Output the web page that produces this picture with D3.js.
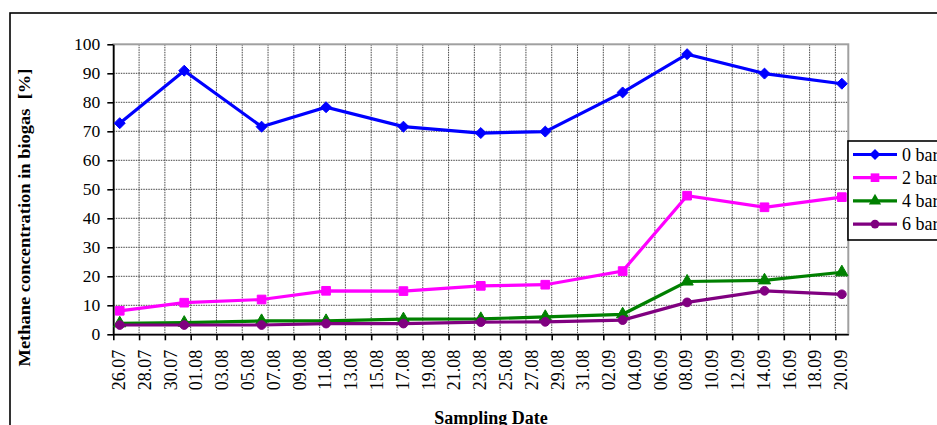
<!DOCTYPE html>
<html>
<head>
<meta charset="utf-8">
<script src="https://cdn.jsdelivr.net/npm/d3@7"></script>
<style>
	body { margin: 0; background: #fff; }
	svg { display: block; font-family: "Liberation Serif", "Times New Roman", serif; }
</style>
</head>
<body>
<div id="chart"></div>
<script>
// sampling dates (day.month, 2008 season)
const sampleDates = ['26.07', '31.07', '06.08', '11.08', '17.08', '23.08', '28.08', '03.09', '08.09', '14.09', '20.09']

const series = ['0 bar', '2 bar', '4 bar', '6 bar']
const bar0 = [72.8, 90.9, 71.6, 78.3, 71.6, 69.4, 69.9, 83.4, 96.6, 89.9, 86.4]
const bar2 = [8.1, 10.9, 12.0, 15.0, 14.9, 16.7, 17.1, 21.8, 47.8, 43.8, 47.3]
const bar4 = [3.8, 4.0, 4.6, 4.6, 5.2, 5.3, 6.0, 6.9, 18.2, 18.6, 21.4]
const bar6 = [3.2, 3.2, 3.2, 3.7, 3.7, 4.2, 4.3, 4.9, 11.0, 15.0, 13.8]

const axisStart = '26.07'
const axisEnd = '21.09'
const yTicks = [0, 10, 20, 30, 40, 50, 60, 70, 80, 90, 100]

// square diamond like the excel marker
const symbolWideDiamond = {
	draw(context, size) {
		const r = Math.sqrt(size / 2)
		context.moveTo(0, -r)
		context.lineTo(r, 0)
		context.lineTo(0, r)
		context.lineTo(-r, 0)
		context.closePath()
	}
}

const colors = ['#0000ff', '#ff00ff', '#008000', '#800080']
const symbols = [symbolWideDiamond, d3.symbolSquare, d3.symbolTriangle, d3.symbolCircle]
const symbolSizes = [60, 75, 65, 60]

const parseDate = d3.timeParse('%d.%m.%Y')
const toDate = s => parseDate(s + '.2008')

const width = 937
const height = 425
const plot = { left: 113.3, top: 44.3, right: 848.3, bottom: 334.3 }

const svg = d3.select('#chart').append('svg')
	.attr('width', width)
	.attr('height', height)

// outer chart frame (runs off the right and bottom)
svg.append('rect')
	.attr('x', 10)
	.attr('y', 13)
	.attr('width', 1000)
	.attr('height', 500)
	.attr('fill', 'none')
	.attr('stroke', '#000')
	.attr('stroke-width', 1.6)

const x = d3.scaleTime()
	.domain([toDate(axisStart), toDate(axisEnd)])
	.range([plot.left, plot.right])

const y = d3.scaleLinear()
	.domain([0, 100])
	.range([plot.bottom, plot.top])

const tickDates = d3.timeDay.range(toDate(axisStart), toDate(axisEnd), 2)

// grid
const grid = svg.append('g')
grid.selectAll('line.h')
	.data(yTicks.slice(1, -1))
	.enter()
	.append('line')
	.attr('x1', plot.left)
	.attr('x2', plot.right)
	.attr('y1', d => y(d))
	.attr('y2', d => y(d))
	.attr('stroke', '#444')
	.attr('stroke-dasharray', '1.5,1')
grid.selectAll('line.v')
	.data(tickDates.slice(1))
	.enter()
	.append('line')
	.attr('x1', d => x(d))
	.attr('x2', d => x(d))
	.attr('y1', plot.top)
	.attr('y2', plot.bottom)
	.attr('stroke', '#444')
	.attr('stroke-dasharray', '1.5,1')

svg.append('rect')
	.attr('x', plot.left)
	.attr('y', plot.top)
	.attr('width', plot.right - plot.left)
	.attr('height', plot.bottom - plot.top)
	.attr('fill', 'none')
	.attr('stroke', '#a0a0a0')
	.attr('stroke-width', 2)

// axes
const yAxis = svg.append('g')
	.attr('transform', `translate(${plot.left},0)`)
	.call(d3.axisLeft(y).tickValues(yTicks).tickSize(6).tickSizeOuter(0).tickPadding(7))
yAxis.selectAll('text')
	.attr('font-size', 17.5)
	.attr('font-family', '"Liberation Serif", serif')
	.attr('fill', '#000')

const xAxis = svg.append('g')
	.attr('transform', `translate(0,${plot.bottom})`)
	.call(d3.axisBottom(x).tickValues(tickDates).tickSize(6).tickSizeOuter(0).tickFormat(d3.timeFormat('%d.%m')))
xAxis.selectAll('text')
	.attr('transform', 'rotate(-90)')
	.attr('text-anchor', 'end')
	.attr('x', -15.5)
	.attr('y', 5)
	.attr('dy', '0.35em')
	.attr('font-size', 18)
	.attr('font-family', '"Liberation Serif", serif')
	.attr('fill', '#000')

svg.selectAll('.domain, .tick line')
	.attr('stroke', '#000')
	.attr('stroke-width', 1.6)

// series
const allValues = [bar0, bar2, bar4, bar6]
const pointX = s => x(d3.timeHour.offset(toDate(s), 12))

const line = d3.line()
	.x((d, i) => pointX(sampleDates[i]))
	.y(d => y(d))

allValues.forEach((values, k) => {
	svg.append('path')
		.datum(values)
		.attr('d', line)
		.attr('fill', 'none')
		.attr('stroke', colors[k])
		.attr('stroke-width', 3.2)

	svg.append('g').selectAll('path')
		.data(values)
		.enter()
		.append('path')
		.attr('transform', (d, i) => `translate(${pointX(sampleDates[i])},${y(d)})`)
		.attr('d', d3.symbol().type(symbols[k]).size(symbolSizes[k]))
		.attr('fill', colors[k])
		.attr('stroke', colors[k])
		.attr('stroke-width', 1)
})

// axis titles
svg.append('text')
	.attr('transform', 'translate(30,217.5) rotate(-90)')
	.attr('text-anchor', 'middle')
	.attr('font-weight', 'bold')
	.attr('font-size', 17.5)
	.attr('textLength', 298)
	.attr('lengthAdjust', 'spacingAndGlyphs')
	.attr('xml:space', 'preserve')
	.text('Methane concentration in biogas  [%]')

svg.append('text')
	.attr('x', 491)
	.attr('y', 423.5)
	.attr('text-anchor', 'middle')
	.attr('font-weight', 'bold')
	.attr('font-size', 18)
	.text('Sampling Date')

// legend
const legend = svg.append('g')
legend.append('rect')
	.attr('x', 848)
	.attr('y', 141)
	.attr('width', 200)
	.attr('height', 99)
	.attr('fill', '#fff')
	.attr('stroke', '#000')
	.attr('stroke-width', 1.6)

const rows = legend.selectAll('g.row')
	.data(series)
	.enter()
	.append('g')
	.attr('transform', (d, i) => `translate(0,${154.5 + i * 23.2})`)
rows.append('line')
	.attr('x1', 853)
	.attr('x2', 897)
	.attr('stroke', (d, i) => colors[i])
	.attr('stroke-width', 3.2)
rows.append('path')
	.attr('transform', 'translate(875,0)')
	.attr('d', (d, i) => d3.symbol().type(symbols[i]).size(symbolSizes[i])())
	.attr('fill', (d, i) => colors[i])
rows.append('text')
	.attr('x', 902)
	.attr('dy', '0.35em')
	.attr('font-size', 18)
	.text(d => d)
</script>
</body>
</html>
